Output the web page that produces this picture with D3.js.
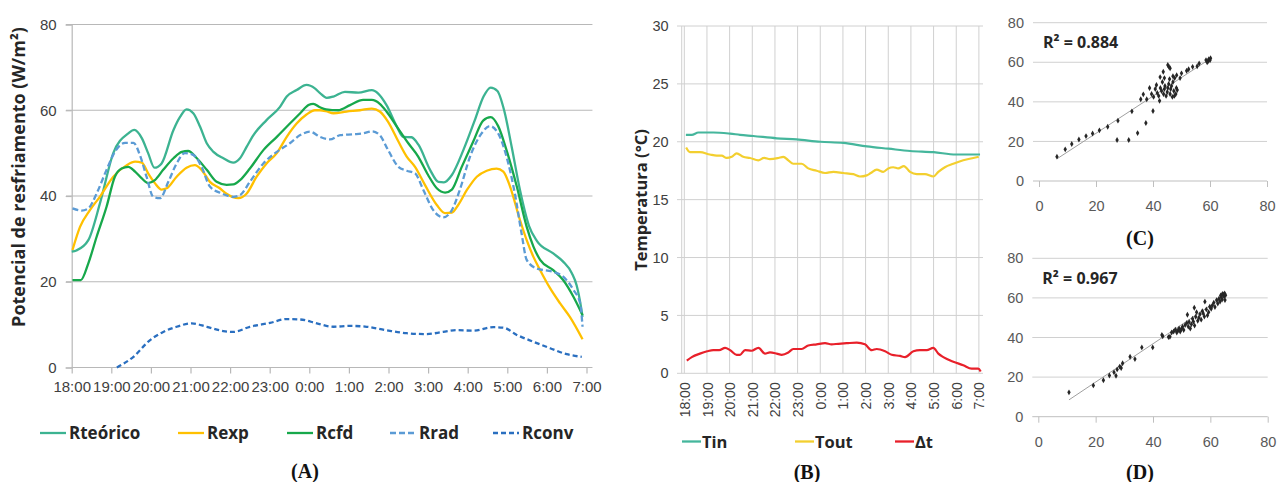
<!DOCTYPE html>
<html>
<head>
<meta charset="utf-8">
<script src="https://cdn.jsdelivr.net/npm/d3@7"></script>
<style>
  body { margin: 0; background: #fff; }
  svg { display: block; font-family: "Open Sans", sans-serif; }
  .tick text { fill: #404040; }
  .bold { font-weight: bold; fill: #262626; }
  .cap { font-family: "Liberation Serif", serif; font-weight: bold; font-size: 20px; fill: #111; }
</style>
</head>
<body>
<div id="canvas"></div>
<script>
const W = 1278, H = 482;

// ---------- panel A data (hours after 18:00, W/m2) ----------
const hoursA = ["18:00","19:00","20:00","21:00","22:00","23:00","0:00","1:00","2:00","3:00","4:00","5:00","6:00","7:00"];
const ticksYA = [0, 20, 40, 60, 80];

const rTeorico = [[0,27],[0.12,27.3],[0.42,29.7],[0.72,38.5],[1.05,50],[1.43,54.6],[1.58,55.4],[1.77,53.5],[1.93,50],[2.09,46.6],[2.27,47.6],[2.57,55.4],[2.74,58.5],[2.9,60.2],[3.07,59.3],[3.24,56.2],[3.41,52.3],[3.58,50.3],[3.83,48.8],[4.08,47.8],[4.25,48.8],[4.42,51.5],[4.59,54.2],[4.92,57.7],[5.26,60.8],[5.43,63.2],[5.68,64.7],[5.93,65.9],[6.14,65.1],[6.27,64],[6.44,62.9],[6.61,63.2],[6.9,64.3],[7.24,64.1],[7.58,64.7],[7.74,63.9],[7.95,61.2],[8.21,56.2],[8.37,53.8],[8.58,53.7],[8.76,51.9],[9.05,46.1],[9.26,43.3],[9.4,43.2],[9.6,44.9],[9.89,50.7],[10.18,57.7],[10.4,63.2],[10.58,65.3],[10.75,64.5],[10.92,60],[11.11,51.5],[11.32,41.4],[11.55,33],[11.75,29.5],[12.16,26.6],[12.41,24.7],[12.63,22],[12.75,19.2],[12.86,14.2],[12.9,11.8]];
const rExp = [[0.02,27.4],[0.21,32.8],[0.46,36.7],[0.71,39.8],[1.05,44.5],[1.39,47.2],[1.6,48],[1.77,47.8],[1.93,45.3],[2.1,43],[2.27,41.5],[2.4,41.8],[2.65,44.5],[2.9,46.6],[3.11,47.2],[3.28,46.1],[3.49,43.3],[3.74,41.8],[3.9,40.6],[4.21,39.5],[4.42,40.6],[4.67,44.5],[4.92,47.6],[5.18,50],[5.43,53.8],[5.68,56.9],[5.93,59],[6.14,60],[6.27,60],[6.42,59.8],[6.61,59.3],[6.94,59.7],[7.28,60],[7.58,60.4],[7.78,59.7],[7.99,57.3],[8.25,52.7],[8.46,49.2],[8.67,46.8],[8.92,42.6],[9.22,37.9],[9.43,36],[9.6,36.1],[9.76,37.9],[9.98,41.4],[10.23,44.5],[10.48,45.9],[10.73,46.4],[10.9,45.7],[11.07,42.2],[11.32,34.4],[11.49,29.7],[11.66,25.8],[11.83,22.7],[12.08,18.5],[12.33,15],[12.58,11.8],[12.9,6.6]];
const rCfd = [[0.02,20.4],[0.23,20.4],[0.42,24.3],[0.63,30.5],[0.88,37.5],[1.09,44.5],[1.26,46.4],[1.43,46.8],[1.6,45.7],[1.77,44.1],[1.93,43],[2.1,43.7],[2.31,46.1],[2.57,48.8],[2.78,50.3],[2.94,50.5],[3.16,48.8],[3.41,46.1],[3.66,43.3],[3.91,42.6],[4.08,42.7],[4.25,43.7],[4.5,46.4],[4.84,50.7],[5.18,53.8],[5.51,56.9],[5.77,59.3],[5.98,61.2],[6.1,61.5],[6.27,60.7],[6.42,60.2],[6.73,60],[7.03,61.2],[7.36,62.4],[7.58,62.4],[7.78,61.5],[7.95,59.7],[8.21,56.2],[8.5,52.3],[8.75,49.2],[9.0,44.9],[9.22,41.8],[9.43,40.8],[9.6,41.5],[9.85,46.8],[10.14,52.7],[10.39,57.6],[10.58,58.4],[10.77,56.3],[10.98,50.7],[11.24,42.2],[11.49,32.8],[11.66,28.2],[11.83,25.1],[12.16,22.7],[12.41,20.4],[12.67,16.5],[12.9,12.2]];
const rRad = [[0.02,37.1],[0.25,36.6],[0.42,37.1],[0.63,40.6],[0.88,46.1],[1.09,50.3],[1.35,52.4],[1.56,52.4],[1.72,49.6],[1.89,44.5],[2.06,39.8],[2.23,39.5],[2.44,43.3],[2.65,47.6],[2.86,50],[3.07,49.6],[3.28,46.8],[3.49,42.2],[3.79,40.6],[4.08,39.8],[4.25,40.2],[4.5,43.3],[4.84,47.6],[5.18,50.3],[5.51,52.3],[5.77,54.2],[6.02,55],[6.27,53.8],[6.52,53.2],[6.78,54.2],[7.11,54.4],[7.36,54.6],[7.58,55.1],[7.78,54.2],[7.99,50.7],[8.25,46.8],[8.46,45.9],[8.67,45.3],[8.88,41.4],[9.13,36.7],[9.38,35],[9.6,36.7],[9.8,41.4],[10.06,49.2],[10.35,54.6],[10.56,56.3],[10.77,54.6],[10.98,49.2],[11.19,40.6],[11.36,31.3],[11.49,25.1],[11.74,23.1],[12.16,22.3],[12.41,21.2],[12.67,18.1],[12.84,15],[12.9,9.5]];
const rConv = [[1.14,0],[1.56,2.5],[1.98,6.4],[2.31,8.3],[2.65,9.5],[3.03,10.3],[3.41,9.5],[3.83,8.5],[4.08,8.3],[4.5,9.5],[5.01,10.4],[5.43,11.3],[5.77,11.2],[6.19,10.3],[6.61,9.5],[7.03,9.7],[7.45,9.5],[7.95,8.7],[8.46,8],[8.96,7.8],[9.38,8.3],[9.72,8.7],[10.14,8.6],[10.65,9.4],[10.9,9.3],[11.24,7.6],[11.66,6],[12.08,4.5],[12.5,3.1],[12.88,2.5]];

const namesA = ["Rteórico", "Rexp", "Rcfd", "Rrad", "Rconv"];

// ---------- panel B data (hours after 18:00, °C) ----------
const ticksYB = [0, 5, 10, 15, 20, 25, 30];
const tIn = [[0.07,20.6],[0.33,20.6],[0.62,20.8],[1.28,20.8],[2.02,20.7],[2.46,20.6],[3.04,20.5],[4.08,20.3],[4.96,20.2],[6.0,20.0],[7.02,19.9],[8.06,19.6],[9.01,19.4],[9.97,19.2],[11.0,19.1],[11.98,18.9],[13.05,18.9]];
const tOut = [[0.08,19.5],[0.25,19.1],[0.69,19.1],[1.13,18.9],[1.43,18.8],[1.65,18.8],[1.87,18.6],[2.09,18.7],[2.31,19.0],[2.6,18.7],[2.9,18.6],[3.27,18.4],[3.52,18.6],[3.78,18.5],[4.15,18.6],[4.37,18.7],[4.59,18.4],[4.81,18.1],[5.18,18.1],[5.47,17.7],[5.84,17.5],[6.21,17.3],[6.58,17.4],[7.02,17.3],[7.46,17.2],[7.75,17.0],[8.05,17.1],[8.23,17.3],[8.49,17.6],[8.78,17.4],[9.0,17.7],[9.22,17.8],[9.44,17.7],[9.69,17.9],[9.96,17.4],[10.26,17.2],[10.62,17.2],[10.99,17.0],[11.21,17.4],[11.5,17.8],[11.87,18.1],[12.31,18.4],[12.75,18.6],[12.99,18.7]];
const deltaT = [[0.11,1.1],[0.33,1.4],[0.69,1.7],[1.01,1.9],[1.28,2.0],[1.54,2.0],[1.8,2.2],[2.02,2.0],[2.31,1.6],[2.46,1.6],[2.68,2.0],[2.97,1.95],[3.27,2.2],[3.56,1.7],[3.78,1.8],[4.08,1.7],[4.3,1.6],[4.59,1.8],[4.81,2.1],[5.18,2.1],[5.47,2.4],[5.84,2.5],[6.21,2.6],[6.5,2.5],[6.8,2.55],[7.17,2.6],[7.61,2.65],[7.97,2.5],[8.27,2.0],[8.49,2.1],[8.86,1.9],[9.15,1.6],[9.52,1.5],[9.74,1.4],[10.11,1.9],[10.4,2.0],[10.7,2.0],[10.99,2.2],[11.21,1.7],[11.43,1.4],[11.87,1.0],[12.31,0.7],[12.68,0.4],[12.97,0.4],[13.08,0.15]];
const namesB = ["Tin", "Tout", "Δt"];

// ---------- panels C and D data ----------
const ticksXY = [0, 20, 40, 60, 80];
const scatterC = [[6.3,12.3],[9.2,16],[11.5,18.7],[14,21],[16.5,22.7],[18.8,24],[21.2,25.6],[24.1,27.4],[27.7,30.5],[27.4,20.7],[31.5,20.7],[32.6,35.2],[34.6,24.2],[37.5,29.3],[40,35.4],[35.7,41.3],[36.6,43.8],[37.8,41.3],[38.8,47],[39.5,44],[40.2,42.5],[40.8,46.5],[41.2,48.5],[41.5,44.5],[42,43],[42.3,40.5],[42.6,47],[43,45.5],[43.3,50],[43.7,44],[44,46.5],[44.2,48],[44.6,43],[45,45],[45.2,47],[45.5,49],[45.8,51.5],[46,44],[46.2,46.5],[46.5,48],[46.8,42.5],[47,50],[47.3,45.5],[47.6,52],[48,44],[48.2,47],[48.5,46],[47.5,43],[43.6,55.2],[45.2,58.6],[45.6,57.7],[46,57],[48.3,53.5],[50,54.4],[51.8,55.7],[53.9,57.7],[56.2,59.4],[58.6,61.1],[59.3,60.5],[59.6,61.6],[60,61],[60.2,62],[59,60],[55.5,58],[52.5,56.5],[49.5,52],[47,53],[44,52],[42.5,52.5]];
const trendC = [[6.3,11.2],[60.3,62]];
const scatterD = [[10.7,12.3],[19.2,15.8],[22.7,18.4],[24.8,20.8],[26.4,22.4],[27.1,20.7],[27.5,23.9],[28.4,25.3],[29.4,27],[28.9,24.6],[32,30.3],[33.7,29.1],[36.1,35],[39.9,35],[43.1,41.3],[43.4,40.6],[45.4,40.2],[45.9,40.4],[46.5,42.5],[47.2,43],[47.8,44],[48.3,42.5],[48.7,43.5],[49.1,44.6],[49.5,43],[49.9,44.3],[50.3,45.4],[50.7,43.8],[51.2,46.3],[51.8,47.3],[52.3,45.5],[52.6,47.8],[53,44.5],[53.4,46.7],[53.8,49.5],[54.1,48],[54.5,46],[54.9,50.5],[55.2,52.8],[55.6,48.4],[56,50],[56.4,51.8],[56.8,49],[57.2,53.3],[57.5,52.2],[57.9,50.6],[58.1,58.1],[58.6,54.2],[59,51.2],[59.4,52.8],[59.8,55.5],[60.3,54.5],[60.7,56.2],[61.2,57.6],[61.6,55.4],[62.2,58.9],[62.6,57.2],[63,59.6],[63.4,58.2],[63.8,60.5],[64.1,59.2],[64.5,61.8],[64.8,60.7],[65.1,58.9],[65.3,61.4],[64.2,62],[63.6,61.2],[65,62.2],[54.4,55],[52,51.5]];
const trendD = [[10.7,8.5],[65.5,61.5]];
const r2Labels = ["R² = 0.884", "R² = 0.967"];

const svg = d3.select("#canvas").append("svg")
  .attr("width", W).attr("height", H)
  .attr("viewBox", [0, 0, W, H]);

// =================== panel A ===================
const xA = d3.scaleLinear().domain([0, 13]).range([71.7, 586.5]);
const yA = d3.scaleLinear().domain([0, 80]).range([367.5, 24.5]);
const gA = svg.append("g");

gA.selectAll("line.grid").data(ticksYA.slice(1)).enter().append("line")
  .attr("x1", 66).attr("x2", xA(13.15))
  .attr("y1", d => yA(d)).attr("y2", d => yA(d))
  .attr("stroke", "#b8b8b8").attr("stroke-width", 1.2);

const axYA = gA.append("g").attr("transform", "translate(" + xA(0) + ",0)")
  .call(d3.axisLeft(yA).tickValues(ticksYA).tickSize(6).tickPadding(9));
axYA.select(".domain").attr("stroke", "#b8b8b8").attr("stroke-width", 1.2);
axYA.selectAll(".tick line").attr("stroke", "#b8b8b8").attr("stroke-width", 1.2);
axYA.selectAll("text").style("font-size", "15px");

const axXA = gA.append("g").attr("transform", "translate(0," + yA(0) + ")")
  .call(d3.axisBottom(xA).tickValues(d3.range(hoursA.length)).tickFormat(i => hoursA[i])
    .tickSize(6).tickSizeOuter(0).tickPadding(8));
axXA.select(".domain").remove();
axXA.selectAll(".tick line").attr("stroke", "#b8b8b8").attr("stroke-width", 1.2);
axXA.selectAll("text").style("font-size", "15px");
gA.append("line").attr("x1", xA(0)).attr("x2", xA(13.15))
  .attr("y1", yA(0)).attr("y2", yA(0)).attr("stroke", "#b8b8b8").attr("stroke-width", 1.2);

const lineA = d3.line().x(d => xA(d[0])).y(d => yA(d[1])).curve(d3.curveMonotoneX);
const seriesA = [
  { data: rTeorico, color: "#3cb391", dash: null },
  { data: rExp, color: "#ffc000", dash: null },
  { data: rCfd, color: "#17a84b", dash: null },
  { data: rRad, color: "#5b9bd5", dash: "6,3" },
  { data: rConv, color: "#2a6fc0", dash: "5,3" }
];
seriesA.forEach(s => {
  gA.append("path").datum(s.data)
    .attr("d", lineA).attr("fill", "none")
    .attr("stroke", s.color).attr("stroke-width", 2.3)
    .attr("stroke-dasharray", s.dash);
});

gA.append("text").attr("class", "bold")
  .attr("transform", "translate(25,177) rotate(-90)")
  .attr("text-anchor", "middle").style("font-size", "18px")
  .text("Potencial de resfriamento (W/m²)");

const legAx = [40, 178, 287, 390, 493];
namesA.forEach((n, i) => {
  const s = seriesA[i];
  gA.append("line").attr("x1", legAx[i]).attr("x2", legAx[i] + 26)
    .attr("y1", 433).attr("y2", 433)
    .attr("stroke", s.color).attr("stroke-width", 2.3).attr("stroke-dasharray", s.dash);
  gA.append("text").attr("class", "bold").attr("x", legAx[i] + 29).attr("y", 439)
    .style("font-size", "17px").text(n);
});
svg.append("text").attr("class", "cap").attr("x", 305).attr("y", 478)
  .attr("text-anchor", "middle").text("(A)");

// =================== panel B ===================
const xB = d3.scaleLinear().domain([0, 13]).range([684.3, 978.9]);
const yB = d3.scaleLinear().domain([0, 30]).range([373.3, 26]);
const gB = svg.append("g");

gB.selectAll("line.hg").data(ticksYB).enter().append("line")
  .attr("x1", 677).attr("x2", 983)
  .attr("y1", d => yB(d)).attr("y2", d => yB(d))
  .attr("stroke", "#d0d0d0").attr("stroke-width", 1);
gB.selectAll("line.vg").data(d3.range(hoursA.length)).enter().append("line")
  .attr("x1", d => xB(d)).attr("x2", d => xB(d))
  .attr("y1", yB(30)).attr("y2", yB(0))
  .attr("stroke", "#d0d0d0").attr("stroke-width", 1);
gB.append("line").attr("x1", 681.7).attr("x2", 681.7)
  .attr("y1", yB(30)).attr("y2", yB(0)).attr("stroke", "#d0d0d0");

const axYB = gB.append("g").attr("transform", "translate(681.7,0)")
  .call(d3.axisLeft(yB).tickValues(ticksYB).tickSize(0).tickPadding(13));
axYB.select(".domain").remove();
axYB.selectAll("text").style("font-size", "14.5px");

const axXB = gB.append("g").attr("transform", "translate(0," + yB(0) + ")")
  .call(d3.axisBottom(xB).tickValues(d3.range(hoursA.length)).tickFormat(i => hoursA[i]).tickSize(0));
axXB.select(".domain").remove();
axXB.selectAll("text")
  .attr("transform", "rotate(-90)").attr("x", -9).attr("y", 0).attr("dy", "0.36em")
  .style("text-anchor", "end").style("font-size", "14px");

const lineB = d3.line().x(d => xB(d[0])).y(d => yB(d[1])).curve(d3.curveMonotoneX);
const seriesB = [
  { data: tIn, color: "#45b69c" },
  { data: tOut, color: "#f3cf2f" },
  { data: deltaT, color: "#e8202a" }
];
seriesB.forEach(s => {
  gB.append("path").datum(s.data)
    .attr("d", lineB).attr("fill", "none")
    .attr("stroke", s.color).attr("stroke-width", 2.2);
});

gB.append("text").attr("class", "bold")
  .attr("transform", "translate(647,200) rotate(-90)")
  .attr("text-anchor", "middle").style("font-size", "16.5px")
  .text("Temperatura (°C)");

const legBx = [682, 795, 895];
namesB.forEach((n, i) => {
  gB.append("line").attr("x1", legBx[i]).attr("x2", legBx[i] + 19)
    .attr("y1", 441.5).attr("y2", 441.5)
    .attr("stroke", seriesB[i].color).attr("stroke-width", 2.3);
  gB.append("text").attr("class", "bold").attr("x", legBx[i] + 20).attr("y", 447.5)
    .style("font-size", "16.5px").text(n);
});
svg.append("text").attr("class", "cap").attr("x", 807).attr("y", 479)
  .attr("text-anchor", "middle").text("(B)");

// =================== panels C and D ===================
function scatterPanel(points, trend, label, xr, yr, cap, capY) {
  const x = d3.scaleLinear().domain([0, 80]).range(xr);
  const y = d3.scaleLinear().domain([0, 80]).range(yr);
  const g = svg.append("g");

  g.selectAll("line.grid").data(ticksXY.slice(1)).enter().append("line")
    .attr("x1", x(0) - 6).attr("x2", x(80))
    .attr("y1", d => y(d)).attr("y2", d => y(d))
    .attr("stroke", "#d0d0d0").attr("stroke-width", 1);

  const ay = g.append("g").attr("transform", "translate(" + x(0) + ",0)")
    .call(d3.axisLeft(y).tickValues(ticksXY).tickSize(0).tickPadding(15));
  ay.select(".domain").remove();
  ay.selectAll("text").style("font-size", "14.5px").style("fill", "#595959");

  const ax = g.append("g").attr("transform", "translate(0," + y(0) + ")")
    .call(d3.axisBottom(x).tickValues(ticksXY).tickSize(6).tickSizeOuter(0).tickPadding(14));
  ax.select(".domain").remove();
  ax.selectAll(".tick line").attr("stroke", "#bfbfbf");
  ax.selectAll("text").style("font-size", "14.5px").style("fill", "#595959");
  g.append("line").attr("x1", x(0) - 6).attr("x2", x(80))
    .attr("y1", y(0)).attr("y2", y(0)).attr("stroke", "#bfbfbf");

  g.append("line")
    .attr("x1", x(trend[0][0])).attr("y1", y(trend[0][1]))
    .attr("x2", x(trend[1][0])).attr("y2", y(trend[1][1]))
    .attr("stroke", "#a0a0a0").attr("stroke-width", 1);

  g.selectAll("path.pt").data(points).enter().append("path")
    .attr("d", d3.symbol(d3.symbolDiamond, 10))
    .attr("transform", d => "translate(" + x(d[0]) + "," + y(d[1]) + ")")
    .attr("fill", "#262626");

  g.append("text").attr("class", "bold").attr("x", x(0) + 4).attr("y", y(70) + 6)
    .style("font-size", "16px").text(label);

  svg.append("text").attr("class", "cap").attr("x", 1140).attr("y", capY)
    .attr("text-anchor", "middle").text(cap);
}

scatterPanel(scatterC, trendC, r2Labels[0], [1039, 1267], [181, 22.7], "(C)", 245);
scatterPanel(scatterD, trendD, r2Labels[1], [1038.3, 1267.7], [416.7, 258.3], "(D)", 479);
</script>
</body>
</html>
